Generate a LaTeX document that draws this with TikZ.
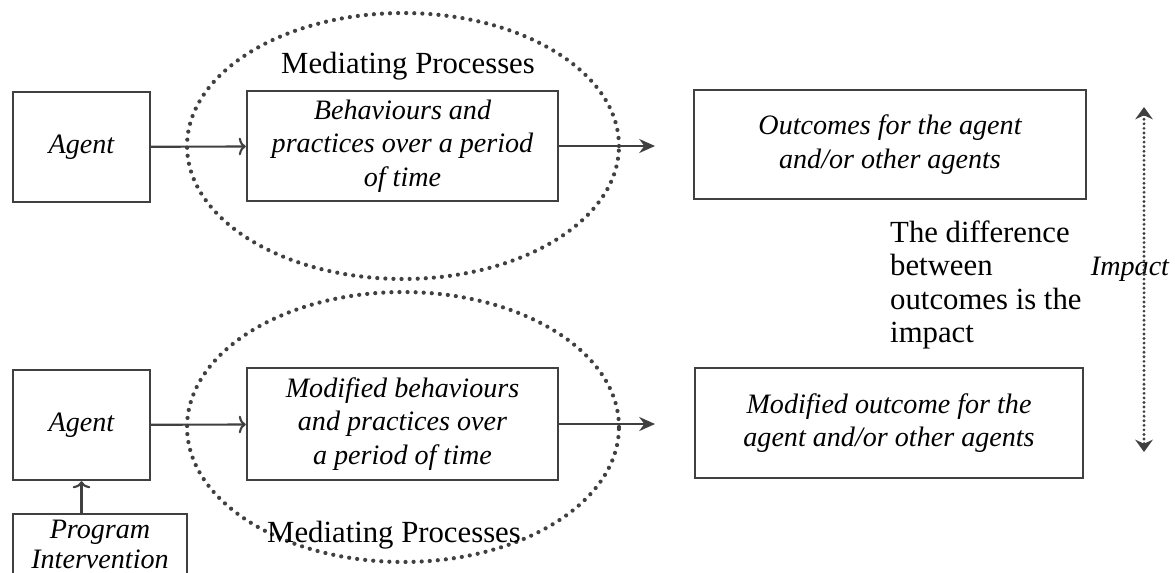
\documentclass[tikz,border=0pt]{standalone}
\usepackage{fontspec}
\setmainfont{Liberation Serif}
\usetikzlibrary{arrows.meta,shapes.geometric}
\definecolor{ink}{HTML}{404040}
\newcommand{\diagfont}{\fontsize{16}{19}\selectfont}
\newcommand{\notefont}{\fontsize{17.5}{19}\selectfont}
\begin{document}
\begin{tikzpicture}[x=0.02cm, y=-0.02cm, font=\notefont,
		box/.style={draw=ink, line width=1.4pt, align=center, inner sep=2pt, font=\diagfont\itshape},
		medcloud/.style={draw=ink, ellipse, inner sep=0pt, line width=2.4pt, line cap=round, dash pattern=on 0pt off 4.6pt},
		flow/.style={draw=ink, line width=1.2pt, -{Stealth[length=9pt,width=8pt]}},
		intoflow/.style={draw=ink, line width=1.2pt, -{To[length=4pt,width=10pt]}},
		impact/.style={draw=ink, line width=1.8pt, line cap=round, dash pattern=on 0pt off 2.6pt, {Stealth[length=7pt,width=10pt]}-{Stealth[length=7pt,width=10pt]}}]
			\useasboundingbox (0,0) rectangle (1175,572);
			\clip (0,0) rectangle (1175,572);
			\node[medcloud, minimum width=8.64cm, minimum height=5.32cm] (medA) at (403,146) {};
			\node[medcloud, minimum width=8.64cm, minimum height=5.4cm] (medB) at (403,427) {};
			\node (medAlabel) at (408,66) {Mediating Processes};
			\node (medBlabel) at (394,535) {Mediating Processes};
			\node[box, minimum width=2.74cm, minimum height=2.2cm] (agentA) at (81.5,147) {Agent};
			\node[box, minimum width=6.22cm, minimum height=2.2cm] (behA) at (402.5,146) {Behaviours and\\practices over a period\\of time};
			\node[box, minimum width=7.84cm, minimum height=2.18cm] (outA) at (890,144.5) {Outcomes for the agent\\and/or other agents};
			\node[box, minimum width=2.74cm, minimum height=2.2cm] (agentB) at (81.5,425) {Agent};
			\node[box, minimum width=6.22cm, minimum height=2.24cm] (behB) at (402.5,424) {Modified behaviours\\and practices over\\a period of time};
			\node[box, minimum width=7.76cm, minimum height=2.2cm] (outB) at (889,423) {Modified outcome for the\\agent and/or other agents};
			\node[box, anchor=north, minimum width=3.48cm, minimum height=1.2cm, inner ysep=0pt, font=\fontsize{16}{17}\selectfont\itshape] (prog) at (100,513) {Program\\Intervention};
			\node[align=left, anchor=west] (diffnote) at (884,285) {The difference\\between\\outcomes is the\\impact};
			\node[font=\diagfont\itshape] (impactlabel) at (1130,269) {Impact};
			\coordinate (tipA) at (655,146);
			\coordinate (tipB) at (655,424);
			\coordinate (impTop) at (1144,107);
			\coordinate (impBot) at (1144,452);
			\draw[intoflow] (agentA) -- (behA);
			\draw[flow] (behA) -- (tipA);
			\draw[intoflow] (agentB) -- (behB);
			\draw[flow] (behB) -- (tipB);
			\draw[intoflow] (prog.north -| agentB) -- (agentB.south);
			\draw[impact] (impTop) -- (impBot);
		\end{tikzpicture}
\end{document}
